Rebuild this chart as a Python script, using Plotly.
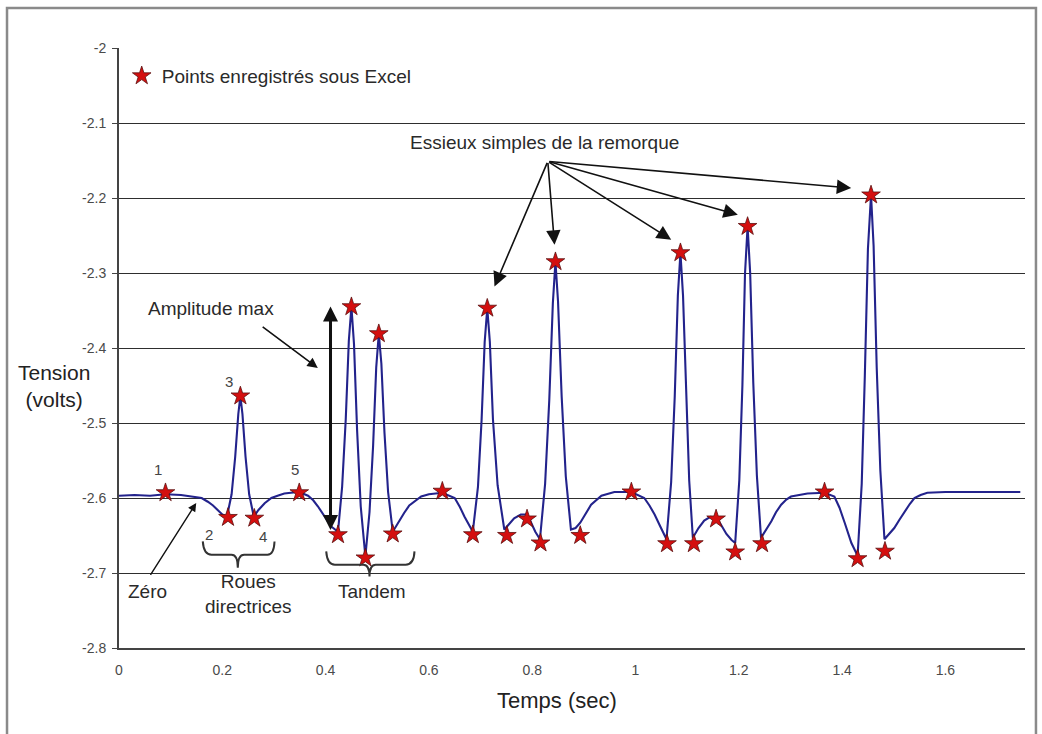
import plotly.graph_objects as go

# ---------------- data ----------------
curve_t = [
    0.000, 0.030, 0.060, 0.090, 0.120, 0.146, 0.160, 0.172, 0.182, 0.191, 0.200,
    0.209, 0.218, 0.225, 0.231, 0.235, 0.239, 0.245, 0.252, 0.261,
    0.270, 0.282, 0.295, 0.307, 0.320, 0.333, 0.349, 0.366, 0.376, 0.385, 0.398, 0.411,
    0.424, 0.432, 0.439, 0.445, 0.450, 0.455, 0.461, 0.468,
    0.477, 0.485, 0.492, 0.498, 0.503, 0.508, 0.514, 0.521,
    0.530, 0.540, 0.552, 0.562, 0.572, 0.585, 0.600, 0.626, 0.650, 0.660, 0.669, 0.678,
    0.685, 0.695, 0.702, 0.708, 0.713, 0.718, 0.724, 0.733,
    0.746, 0.755, 0.765, 0.778, 0.787, 0.796, 0.806,
    0.815, 0.825, 0.833, 0.840, 0.845, 0.850, 0.857, 0.865,
    0.875, 0.884, 0.893, 0.901, 0.914, 0.934, 0.959, 0.992, 1.017, 1.027, 1.037, 1.048, 1.053,
    1.060, 1.069, 1.076, 1.082, 1.087, 1.092, 1.098, 1.104,
    1.111, 1.122, 1.133, 1.145, 1.155, 1.165, 1.176, 1.186,
    1.193, 1.201, 1.207, 1.212, 1.217, 1.222, 1.228, 1.235,
    1.243, 1.253, 1.263, 1.272, 1.282, 1.292, 1.301, 1.333, 1.366, 1.385, 1.395, 1.405, 1.418,
    1.430, 1.438, 1.444, 1.450, 1.456, 1.461, 1.467, 1.474,
    1.482, 1.491, 1.501, 1.511, 1.521, 1.531, 1.540, 1.552, 1.565, 1.600, 1.650, 1.700, 1.745,
]
curve_v = [
    -2.597, -2.596, -2.597, -2.595, -2.596, -2.598, -2.600, -2.605, -2.610, -2.616, -2.622,
    -2.625, -2.595, -2.545, -2.488, -2.464, -2.488, -2.545, -2.595, -2.625,
    -2.616, -2.607, -2.600, -2.597, -2.594, -2.593, -2.592, -2.597, -2.603, -2.611, -2.625, -2.638,
    -2.645, -2.585, -2.495, -2.390, -2.345, -2.395, -2.510, -2.611,
    -2.678, -2.619, -2.530, -2.426, -2.381, -2.421, -2.513, -2.592,
    -2.645, -2.633, -2.620, -2.610, -2.605, -2.598, -2.595, -2.593, -2.600, -2.612, -2.625, -2.637,
    -2.645, -2.585, -2.496, -2.392, -2.347, -2.392, -2.495, -2.583,
    -2.642, -2.635, -2.627, -2.622, -2.622, -2.630, -2.645,
    -2.655, -2.581, -2.470, -2.340, -2.285, -2.338, -2.464, -2.571,
    -2.642, -2.640, -2.633, -2.624, -2.609, -2.597, -2.592, -2.592, -2.600, -2.610, -2.622, -2.638, -2.646,
    -2.655, -2.579, -2.464, -2.330, -2.273, -2.330, -2.463, -2.577,
    -2.653, -2.640, -2.630, -2.625, -2.626, -2.635, -2.648, -2.656,
    -2.660, -2.576, -2.449, -2.301, -2.238, -2.300, -2.446, -2.570,
    -2.653, -2.642, -2.631, -2.619, -2.609, -2.602, -2.598, -2.594, -2.593, -2.598, -2.613, -2.633, -2.660,
    -2.677, -2.581, -2.437, -2.268, -2.196, -2.264, -2.426, -2.563,
    -2.655, -2.648, -2.640, -2.629, -2.618, -2.608, -2.600, -2.596, -2.593, -2.592, -2.592, -2.592, -2.592,
]

star_t = [0.090, 0.211, 0.235, 0.262, 0.349, 0.424, 0.450, 0.477, 0.503, 0.530,
          0.626, 0.685, 0.713, 0.751, 0.790, 0.816, 0.845, 0.893, 0.992, 1.061,
          1.087, 1.113, 1.156, 1.193, 1.217, 1.245, 1.366, 1.430, 1.456, 1.483]
star_v = [-2.593, -2.626, -2.464, -2.627, -2.593, -2.649, -2.345, -2.680, -2.381, -2.648,
          -2.591, -2.649, -2.347, -2.650, -2.628, -2.660, -2.285, -2.650, -2.592, -2.661,
          -2.273, -2.661, -2.628, -2.672, -2.238, -2.661, -2.592, -2.681, -2.196, -2.671]

y_tickvals = [-2.0, -2.1, -2.2, -2.3, -2.4, -2.5, -2.6, -2.7, -2.8]
y_ticktext = ["-2", "-2.1", "-2.2", "-2.3", "-2.4", "-2.5", "-2.6", "-2.7", "-2.8"]
x_tickvals = [0, 0.2, 0.4, 0.6, 0.8, 1.0, 1.2, 1.4, 1.6]
x_ticktext = ["0", "0.2", "0.4", "0.6", "0.8", "1", "1.2", "1.4", "1.6"]

legend_label = "Points enregistrés sous Excel"
x_title = "Temps (sec)"
y_title = "Tension<br>(volts)"

FONT = "Liberation Sans, Arial, sans-serif"

fig = go.Figure()
fig.add_trace(go.Scatter(
    x=curve_t, y=curve_v, mode="lines",
    line=dict(color="#23238c", width=2.1),
    showlegend=False, hoverinfo="skip",
))
fig.add_trace(go.Scatter(
    x=star_t, y=star_v, mode="markers", name=legend_label,
    marker=dict(symbol="star", size=14, color="#d40f0f",
                line=dict(color="#5a1010", width=0.8)),
))

# ---------------- annotations ----------------
ann = []
def txt(x, y, s, size=19, xanchor="center", color="#2a2a2a"):
    ann.append(dict(x=x, y=y, xref="x", yref="y", text=s, showarrow=False,
                    xanchor=xanchor, yanchor="middle",
                    font=dict(family=FONT, size=size, color=color)))

def arrow(x, y, ax, ay, width=2, size=1.4, side="end"):
    ann.append(dict(x=x, y=y, ax=ax, ay=ay, xref="x", yref="y", axref="x", ayref="y",
                    text="", showarrow=True, arrowhead=2, arrowsize=size,
                    arrowwidth=width, arrowcolor="#111111", arrowside=side,
                    startarrowhead=2, startarrowsize=size))

txt(0.824, -2.1263, "Essieux simples de la remorque")
txt(0.1772, -2.3476, "Amplitude max")
txt(0.0552, -2.7249, "Zéro")
txt(0.2507, -2.7276, "Roues<br>directrices")
txt(0.4889, -2.7249, "Tandem")
txt(0.0751, -2.5623, "1", size=15, color="#444444")
txt(0.1752, -2.6489, "2", size=15, color="#444444")
txt(0.2126, -2.4445, "3", size=15, color="#444444")
txt(0.2784, -2.6512, "4", size=15, color="#444444")
txt(0.3411, -2.5623, "5", size=15, color="#444444")

src_t, src_v = 0.8302, -2.1512
for ht, hv in [(0.7270, -2.3179), (0.8432, -2.2623), (1.0691, -2.2556),
               (1.1981, -2.2223), (1.4176, -2.1867)]:
    arrow(ht, hv, src_t, src_v, width=1.6, size=1.8)
arrow(0.3849, -2.4267, 0.2753, -2.3703, width=1.6, size=1.3)
arrow(0.1495, -2.6067, 0.0591, -2.7045, width=1.4, size=1.2)
arrow(0.4095, -2.3445, 0.4095, -2.6445, width=3, size=1.0, side="end+start")

ann.append(dict(x=-0.0717, y=0.4367, xref="paper", yref="paper", text=y_title,
                showarrow=False, xanchor="center", yanchor="middle", align="center",
                font=dict(family=FONT, size=21, color="#222222")))
ann.append(dict(x=0.4834, y=-0.0883, xref="paper", yref="paper", text=x_title,
                showarrow=False, xanchor="center", yanchor="middle",
                font=dict(family=FONT, size=22, color="#222222")))

shapes = [
    dict(type="path", xref="x", yref="y",
         path="M 0.1622,-2.6579 Q 0.1640,-2.6756 0.1791,-2.6756 L 0.2178,-2.6756 "
              "Q 0.2300,-2.6756 0.2300,-2.6929 Q 0.2300,-2.6756 0.2422,-2.6756 "
              "L 0.2875,-2.6756 Q 0.3000,-2.6756 0.3011,-2.6579",
         line=dict(color="#333333", width=2)),
    dict(type="path", xref="x", yref="y",
         path="M 0.4012,-2.6712 Q 0.4030,-2.6889 0.4180,-2.6889 L 0.4730,-2.6889 "
              "Q 0.4850,-2.6889 0.4850,-2.7045 Q 0.4850,-2.6889 0.4970,-2.6889 "
              "L 0.5550,-2.6889 Q 0.5710,-2.6889 0.5721,-2.6712",
         line=dict(color="#333333", width=2)),
    dict(type="rect", xref="paper", yref="paper",
         x0=-0.1236, x1=1.0121, y0=-0.1533, y1=1.0667,
         line=dict(color="#8a8a8a", width=2.5)),
]

fig.update_layout(
    width=1042, height=734,
    margin=dict(l=119, r=17, t=48, b=86, autoexpand=False),
    paper_bgcolor="white", plot_bgcolor="white",
    font=dict(family=FONT, color="#333333"),
    annotations=ann, shapes=shapes,
    showlegend=True,
    legend=dict(x=0.003, y=0.985, xanchor="left", yanchor="top",
                bgcolor="rgba(0,0,0,0)", font=dict(family=FONT, size=19, color="#2a2a2a"),
                itemwidth=30),
)
fig.update_xaxes(range=[0, 1.7541], tickvals=x_tickvals, ticktext=x_ticktext,
                 showgrid=False, zeroline=False, showline=True, linecolor="#444444",
                 linewidth=2, ticks="", ticklabelstandoff=8,
                 tickfont=dict(family=FONT, size=14, color="#4a4a4a"))
fig.update_yaxes(range=[-2.8, -2.0], tickvals=y_tickvals, ticktext=y_ticktext,
                 showgrid=True, gridcolor="#2e2e2e", gridwidth=1.4, zeroline=False,
                 showline=True, linecolor="#444444", linewidth=2,
                 ticks="outside", ticklen=5, tickcolor="#444444",
                 ticklabelstandoff=3,
                 tickfont=dict(family=FONT, size=14, color="#4a4a4a"))

fig.write_html("out.html")
